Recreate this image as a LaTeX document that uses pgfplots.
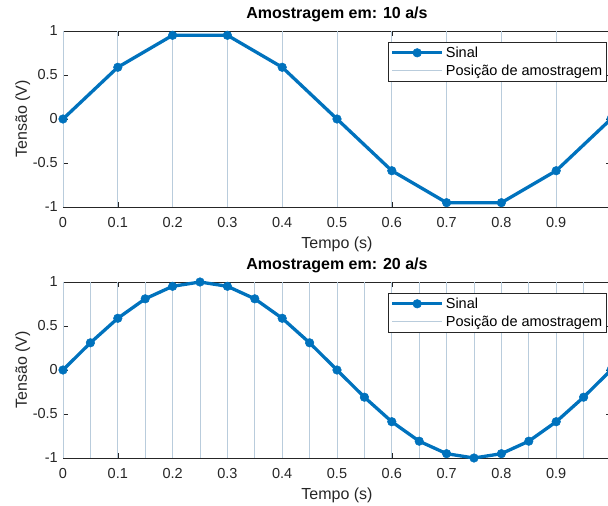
\documentclass[border=0pt]{standalone}
\usepackage{pgfplots}
\pgfplotsset{compat=1.18}
\usepackage{fontspec}
\setmainfont{Liberation Sans}
\definecolor{mblue}{RGB}{0,114,189}
\definecolor{sline}{RGB}{185,204,220}
\definecolor{axgray}{RGB}{38,38,38}
\pgfplotsset{
  mstyle/.style={
    scale only axis,
    anchor=south west,
    width=548pt,
    xmin=0, xmax=1, ymin=-1, ymax=1,
    clip=false,
    unbounded coords=jump,
    axis line style={axgray, line width=0.6pt},
    major tick style={axgray, line width=0.6pt},
    major tick length=5pt,
    tick align=inside,
    xtick={0,0.1,0.2,0.3,0.4,0.5,0.6,0.7,0.8,0.9,1},
    xticklabels={0,0.1,0.2,0.3,0.4,0.5,0.6,0.7,0.8,0.9,{}},
    ytick={-1,-0.5,0,0.5,1},
    yticklabels={-1,-0.5,0,0.5,1},
    tick label style={font=\fontsize{14.5}{17}\selectfont, text=axgray},
    xticklabel style={anchor=base, yshift=-20.5pt, inner sep=0pt},
    yticklabel style={anchor=east, inner sep=0pt, xshift=-5pt},
    xlabel={Tempo (s)},
    ylabel={Tensão (V)},
    xlabel style={at={([yshift=-41.5pt]axis description cs:0.5,0)}, anchor=base, font=\fontsize{16}{19}\selectfont, text=axgray, inner sep=0pt},
    ylabel style={at={([xshift=-36pt]axis description cs:0,0.5)}, anchor=base, font=\fontsize{16}{19}\selectfont, text=axgray, inner sep=0pt},
    title style={at={([yshift=6pt]axis description cs:0.5,1)}, anchor=base, font=\bfseries\fontsize{16}{19}\selectfont, inner sep=0pt},
    legend style={at={([xshift=-4.5pt,yshift=-11pt]axis description cs:1,1)}, anchor=north east,
      draw=axgray, line width=0.6pt, fill=white, font=\fontsize{14.5}{17}\selectfont,
      inner xsep=2pt, inner ysep=2.5pt, row sep=2pt},
    legend cell align=left,
    legend image code/.code={\draw[mark repeat=2,mark phase=2,#1] plot coordinates {(0pt,0pt) (25pt,0pt) (50pt,0pt)};},
    reverse legend,
  },
  sig/.style={color=mblue, line width=3.3pt, mark=*, mark size=4.3pt, mark options={fill=mblue, draw=mblue, line width=0.5pt}},
  samp/.style={color=sline, line width=0.9pt, no marks},
}
\begin{document}
\begin{tikzpicture}
\useasboundingbox (0pt,0pt) rectangle (608pt,506pt);
\begin{axis}[mstyle, at={(63pt,299pt)}, height=176pt, title={Amostragem em: 10 a/s}]
\addplot[samp] coordinates {
(0,-1) (0,1) (0,nan)
(0.1,-1) (0.1,1) (0.1,nan)
(0.2,-1) (0.2,1) (0.2,nan)
(0.3,-1) (0.3,1) (0.3,nan)
(0.4,-1) (0.4,1) (0.4,nan)
(0.5,-1) (0.5,1) (0.5,nan)
(0.6,-1) (0.6,1) (0.6,nan)
(0.7,-1) (0.7,1) (0.7,nan)
(0.8,-1) (0.8,1) (0.8,nan)
(0.9,-1) (0.9,1) (0.9,nan)
(1,-1) (1,1)
};
\addlegendentry{Posição de amostragem}
\addplot[sig] coordinates {
(0,0) (0.1,0.5878) (0.2,0.9511) (0.3,0.9511) (0.4,0.5878) (0.5,0)
(0.6,-0.5878) (0.7,-0.9511) (0.8,-0.9511) (0.9,-0.5878) (1,0)
};
\addlegendentry{Sinal}
\end{axis}
\begin{axis}[mstyle, at={(63pt,48pt)}, height=176pt, title={Amostragem em: 20 a/s}]
\addplot[samp] coordinates {
(0,-1) (0,1) (0,nan)
(0.05,-1) (0.05,1) (0.05,nan)
(0.1,-1) (0.1,1) (0.1,nan)
(0.15,-1) (0.15,1) (0.15,nan)
(0.2,-1) (0.2,1) (0.2,nan)
(0.25,-1) (0.25,1) (0.25,nan)
(0.3,-1) (0.3,1) (0.3,nan)
(0.35,-1) (0.35,1) (0.35,nan)
(0.4,-1) (0.4,1) (0.4,nan)
(0.45,-1) (0.45,1) (0.45,nan)
(0.5,-1) (0.5,1) (0.5,nan)
(0.55,-1) (0.55,1) (0.55,nan)
(0.6,-1) (0.6,1) (0.6,nan)
(0.65,-1) (0.65,1) (0.65,nan)
(0.7,-1) (0.7,1) (0.7,nan)
(0.75,-1) (0.75,1) (0.75,nan)
(0.8,-1) (0.8,1) (0.8,nan)
(0.85,-1) (0.85,1) (0.85,nan)
(0.9,-1) (0.9,1) (0.9,nan)
(0.95,-1) (0.95,1) (0.95,nan)
(1,-1) (1,1)
};
\addlegendentry{Posição de amostragem}
\addplot[sig] coordinates {
(0,0) (0.05,0.3090) (0.1,0.5878) (0.15,0.8090) (0.2,0.9511) (0.25,1)
(0.3,0.9511) (0.35,0.8090) (0.4,0.5878) (0.45,0.3090) (0.5,0)
(0.55,-0.3090) (0.6,-0.5878) (0.65,-0.8090) (0.7,-0.9511) (0.75,-1)
(0.8,-0.9511) (0.85,-0.8090) (0.9,-0.5878) (0.95,-0.3090) (1,0)
};
\addlegendentry{Sinal}
\end{axis}
\end{tikzpicture}
\end{document}
